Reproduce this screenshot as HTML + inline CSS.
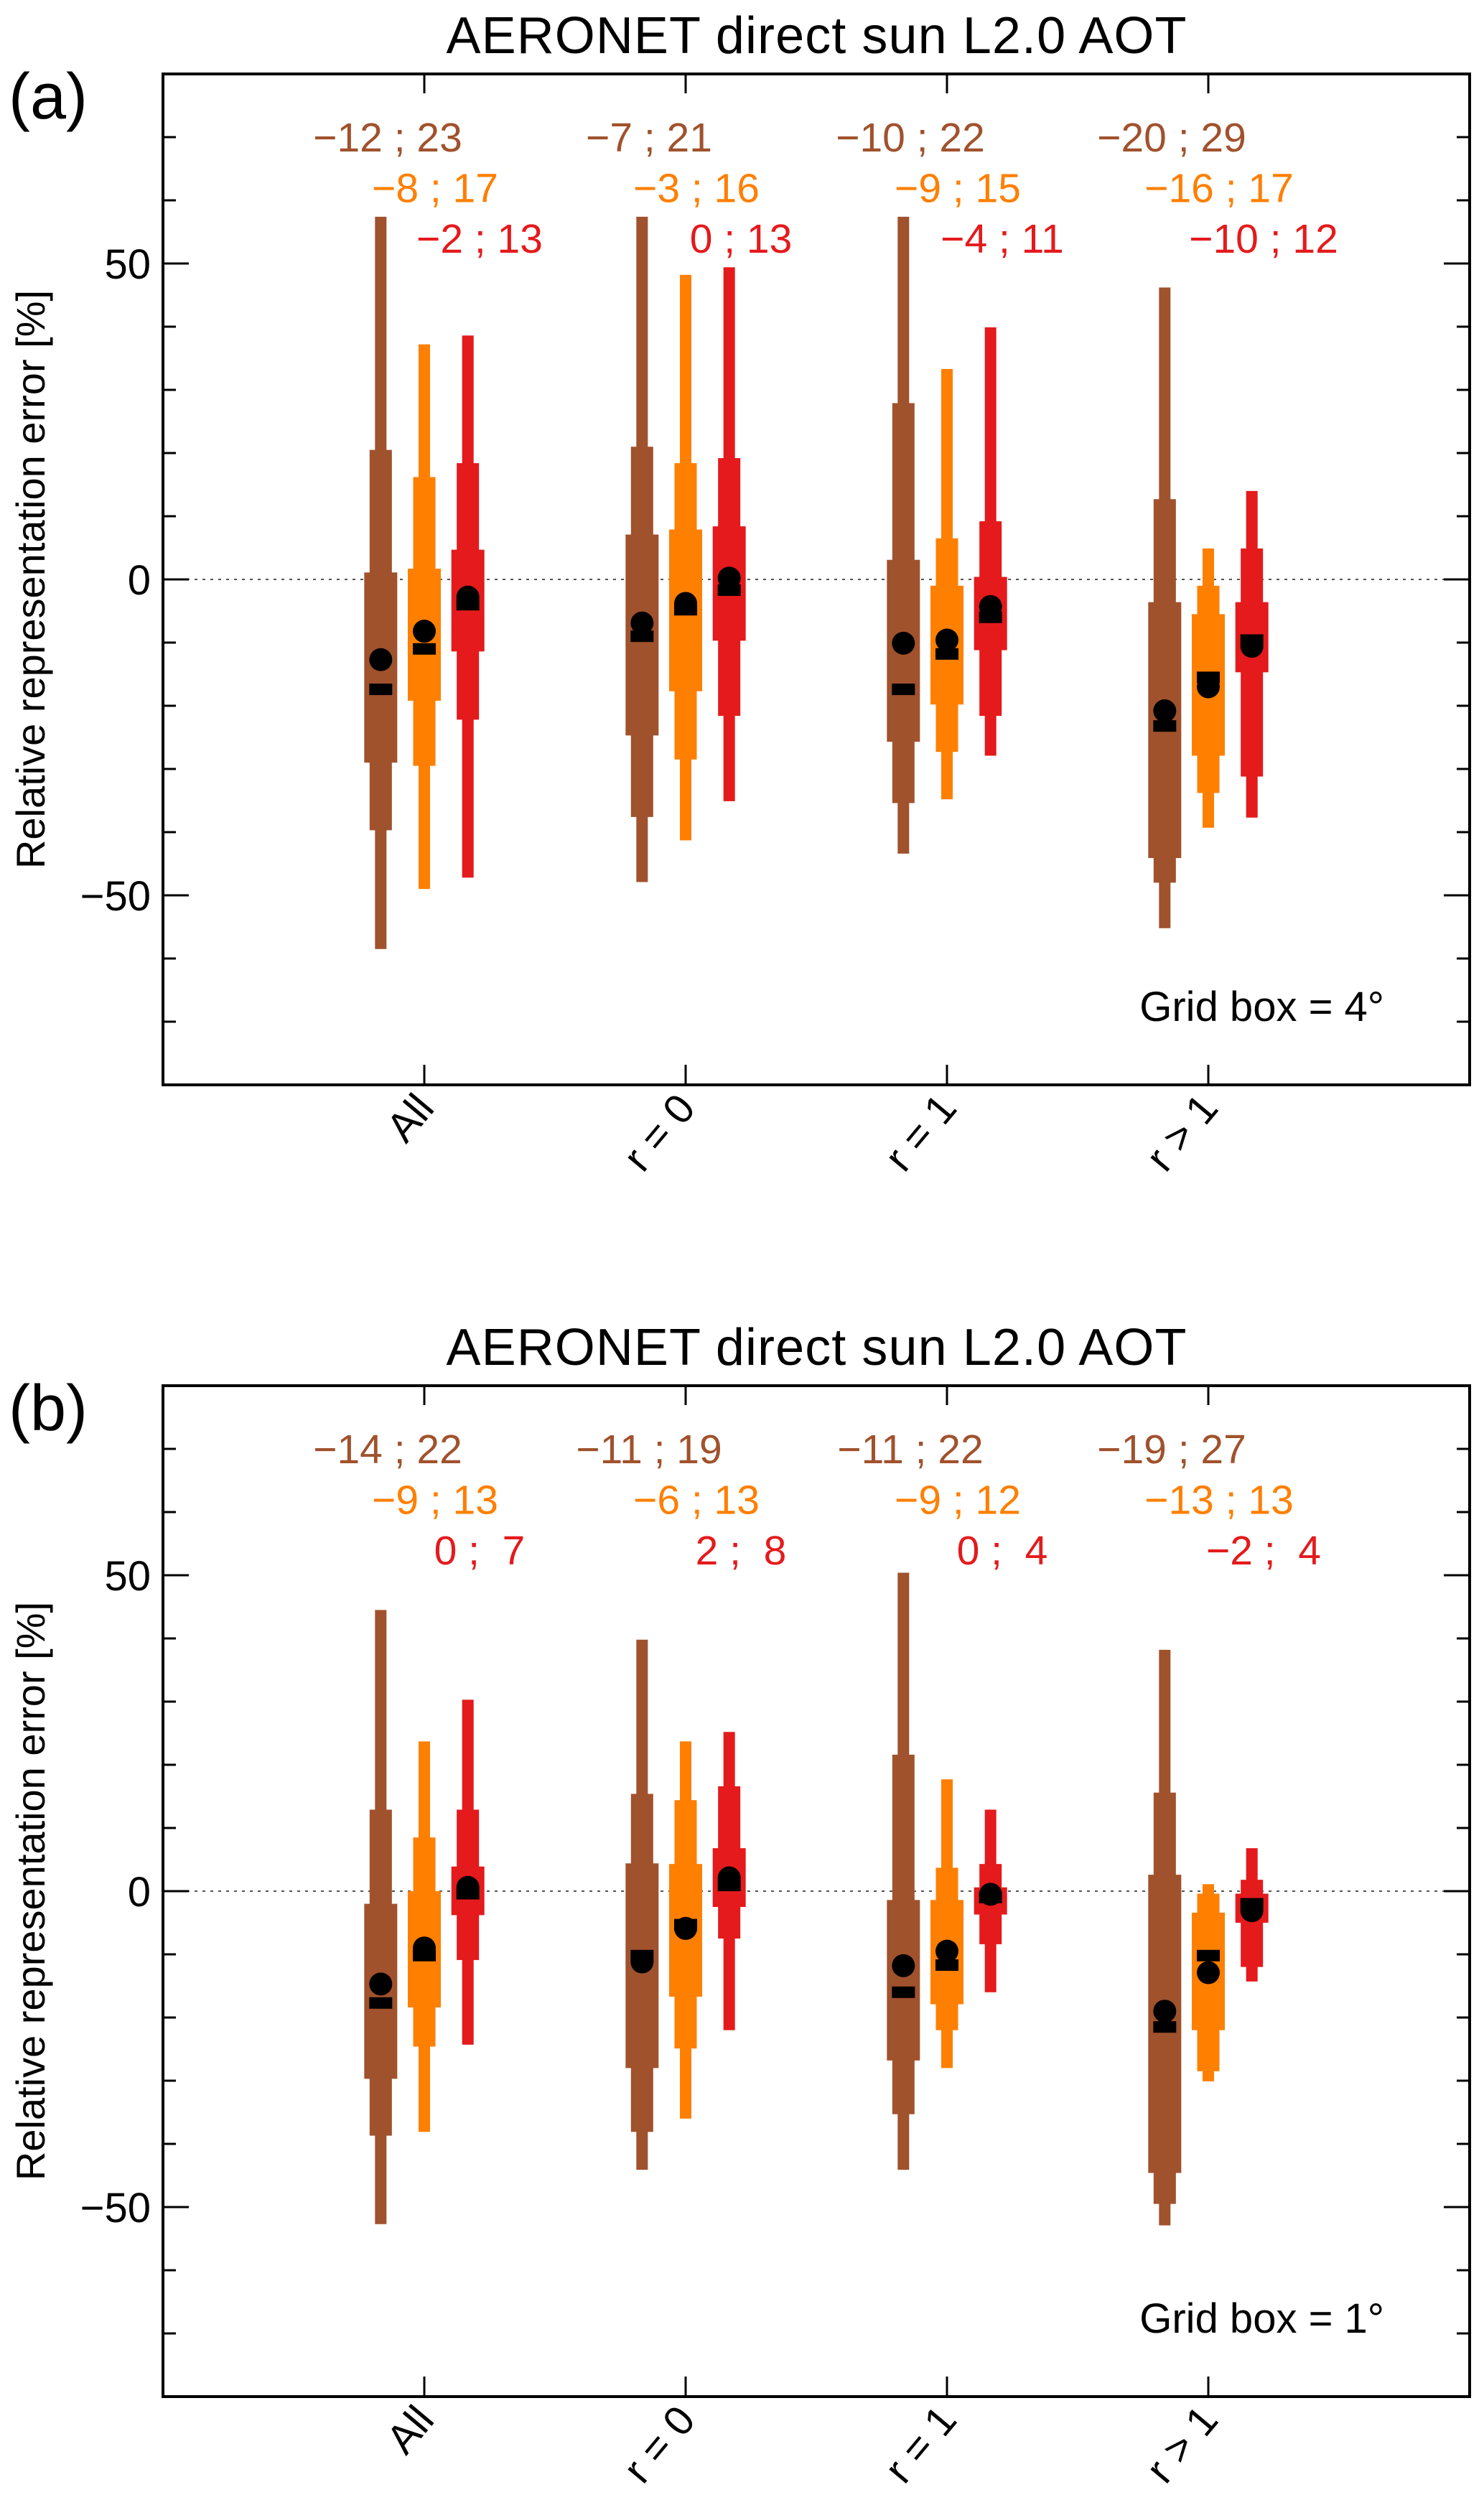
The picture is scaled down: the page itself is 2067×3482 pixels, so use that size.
<!DOCTYPE html>
<html><head><meta charset="utf-8"><style>
html,body{margin:0;padding:0;background:#fff;}
svg{display:block;font-family:"Liberation Sans",Arial,sans-serif;}
</style></head>
<body>
<svg id="chart" width="2067" height="3482" viewBox="0 0 2067 3482" xmlns="http://www.w3.org/2000/svg"></svg>
<script>
// ---- data ----
const categories = ["All", "r = 0", "r = 1", "r > 1"];
const seriesNames = ["brown", "orange", "red"];
const seriesColors = ["#a0522d", "#ff7f00", "#e41a1c"];
const yTicksMajor = [-50, 0, 50];
const yTickLabels = ["\u221250", "0", "50"];
// Panel (a) 4 deg: per series, per category: [min, p10, p25, p75, p90, max]
const aMin = [[-58.5,-47.9,-43.4,-55.2],[-49,-41.3,-34.8,-39.3],[-47.2,-35.1,-27.9,-37.7]];
const aLo  = [[-39.7,-37.6,-35.4,-48],[-29.5,-28.5,-27.3,-33.8],[-22.2,-21.6,-21.6,-31.2]];
const aQ1  = [[-29,-24.7,-25.7,-44.1],[-19.2,-17.7,-19.8,-27.9],[-11.4,-9.7,-11.2,-14.7]];
const aQ3  = [[1.1,7.1,3.1,-3.6],[1.7,7.9,-1,-5.5],[4.7,8.4,0.4,-3.6]];
const aHi  = [[20.5,21,27.9,12.7],[16.2,18.4,6.5,-1],[18.4,19.2,9.2,4.9]];
const aMax = [[57.4,57.4,57.4,46.2],[37.2,48.2,33.3,4.9],[38.6,49.4,39.9,14]];
const aMean= [[-12.7,-6.9,-10.1,-20.8],[-8.2,-3.8,-9.6,-17],[-2.8,0.2,-4.3,-10.6]];
const aMed = [[-17.4,-9,-17.4,-23.2],[-11,-4.8,-11.8,-15.5],[-4,-1.7,-6,-9.6]];
const aLabels = [["\u221212 ; 23","\u22127 ; 21","\u221210 ; 22","\u221220 ; 29"],
                 ["\u22128 ; 17","\u22123 ; 16","\u22129 ; 15","\u221216 ; 17"],
                 ["\u22122 ; 13","0 ; 13","\u22124 ; 11","\u221210 ; 12"]];
// Panel (b) 1 deg
const bMin = [[-52.7,-44.1,-44.1,-52.9],[-38.1,-36,-28,-30.1],[-24.3,-22,-16,-14.3]];
const bLo  = [[-38.7,-38.1,-35.3,-49.5],[-24.6,-24.9,-22,-28.5],[-10.9,-7.5,-8.4,-12]];
const bQ1  = [[-29.7,-28,-26.8,-44.6],[-18.4,-16.7,-17.9,-22],[-3.8,-2.5,-3.7,-5]];
const bQ3  = [[-2,4.4,-1.4,2.6],[0,4.3,-1.4,-3.4],[3.9,6.8,0.6,-0.4]];
const bHi  = [[12.9,15.4,21.6,15.6],[8.5,14.4,3.7,-0.4],[12.9,16.6,4.3,1.8]];
const bMax = [[44.5,39.8,50.4,38.2],[23.7,23.7,17.7,1.1],[30.3,25.2,12.9,6.8]];
const bMean= [[-14.7,-11.2,-11.8,-19],[-9,-5.9,-9.5,-12.9],[0.6,2.1,-0.5,-3.1]];
const bMed = [[-17.7,-10.2,-16,-21.5],[-10.2,-5.3,-11.7,-10.2],[-0.4,0.9,-1,-2]];
const bLabels = [["\u221214 ; 22","\u221211 ; 19","\u221211 ; 22","\u221219 ; 27"],
                 ["\u22129 ; 13","\u22126 ; 13","\u22129 ; 12","\u221213 ; 13"],
                 ["0 ;  7","2 ;  8","0 ;  4","\u22122 ;  4"]];

const NS = "http://www.w3.org/2000/svg";
const svg = document.getElementById("chart");
function mk(tag, attrs, parent) {
  const e = document.createElementNS(NS, tag);
  for (const k in attrs) e.setAttribute(k, attrs[k]);
  (parent || svg).appendChild(e);
  return e;
}

function drawPanel(p) {
  const L = 227, R = 2047, T = p.top, B = p.top + 1408;
  const yMin = -80, yMax = 80, xMin = 0, xMax = 5;
  const X = v => L + (v - xMin) / (xMax - xMin) * (R - L);
  const Y = v => B - (v - yMin) / (yMax - yMin) * (B - T);
  const g = mk("g", {});
  
  

  const title = mk("text", {x: (L + R) / 2, y: T - 29, "font-size": 72, "text-anchor": "middle", textLength: 1031, fill: "#000"}, g);
  title.textContent = "AERONET direct sun L2.0 AOT";
  
  

  const tag = mk("text", {x: 12, y: T + 62, "font-size": 90, fill: "#000"}, g);
  tag.textContent = p.tag;
  
  

  // zero line
  const zl = mk("line", {x1: L, x2: R, y1: Y(0), y2: Y(0), stroke: "#555", "stroke-width": 2, "stroke-dasharray": "4 7"}, g);
  
  

  // y ticks
  for (let v = -70; v <= 70; v += 10) {
    const len = (v % 50 === 0) ? 36 : 18;
    const t1 = mk("line", {x1: L, x2: L + len, y1: Y(v), y2: Y(v), stroke: "#000", "stroke-width": 3}, g);
    
    
    const t2 = mk("line", {x1: R, x2: R - len, y1: Y(v), y2: Y(v), stroke: "#000", "stroke-width": 3}, g);
    
    
  }
  yTicksMajor.forEach((v, i) => {
    const tl = mk("text", {x: 210, y: Y(v) + 21, "font-size": 58, "text-anchor": "end", fill: "#000"}, g);
    tl.textContent = yTickLabels[i];
    
    
  });
  const yl = mk("text", {x: 0, y: 0, "font-size": 56, "text-anchor": "middle", fill: "#000", transform: `translate(62 ${Y(0)}) rotate(-90)`}, g);
  yl.textContent = "Relative representation error [%]";
  
  

  // categories
  categories.forEach((c, i) => {
    const cx = X(i + 1);
    const tt = mk("line", {x1: cx, x2: cx, y1: T, y2: T + 27, stroke: "#000", "stroke-width": 3}, g);
    
    
    const tb = mk("line", {x1: cx, x2: cx, y1: B, y2: B - 28, stroke: "#000", "stroke-width": 3}, g);
    
    
    const xl = mk("text", {x: 0, y: 0, "font-size": 58, "text-anchor": "end", fill: "#000", transform: `translate(${cx + 16} ${B + 34}) rotate(-50)`}, g);
    xl.textContent = c;
    
    
  });

  const offsets = [-0.1667, 0, 0.1667];
  const labelOff = [-51, 15, 77];
  const labelRows = [70, 62, 54];
  seriesNames.forEach((s, si) => {
    const col = seriesColors[si];
    categories.forEach((c, ci) => {
      const cx = X(ci + 1 + offsets[si]);
      const bg = mk("g", {}, g);
      
      
      const w1 = mk("rect", {x: cx - 8, width: 16, y: Y(p.max[si][ci]), height: Y(p.min[si][ci]) - Y(p.max[si][ci]), fill: col}, bg);
      
      
      const w2 = mk("rect", {x: cx - 15.5, width: 31, y: Y(p.hi[si][ci]), height: Y(p.lo[si][ci]) - Y(p.hi[si][ci]), fill: col}, bg);
      
      
      const w3 = mk("rect", {x: cx - 23, width: 46, y: Y(p.q3[si][ci]), height: Y(p.q1[si][ci]) - Y(p.q3[si][ci]), fill: col}, bg);
      
      
      const md = mk("rect", {x: cx - 16, width: 32, y: Y(p.med[si][ci]) - 8, height: 16, fill: "#000"}, bg);
      
      
      const mn = mk("circle", {cx: cx, cy: Y(p.mean[si][ci]), r: 16, fill: "#000"}, bg);
      
      
      const lt = mk("text", {x: X(ci + 1) + labelOff[si], y: Y(labelRows[si]) + 20, "font-size": 57, "text-anchor": "middle", fill: col, "xml:space": "preserve", style: "white-space:pre"}, g);
      lt.textContent = p.labels[si][ci];
      
      
    });
  });

  const gb = mk("text", {x: 1928, y: T + 1319, "font-size": 58, "text-anchor": "end", fill: "#000"}, g);
  gb.textContent = p.grid;
  
  

  const fr = mk("rect", {x: L, y: T, width: R - L, height: B - T, fill: "none", stroke: "#000", "stroke-width": 4}, g);
  
  
}

drawPanel({name: "panel-a", tag: "(a)", top: 103, grid: "Grid box = 4\u00b0",
  min: aMin, lo: aLo, q1: aQ1, q3: aQ3, hi: aHi, max: aMax, mean: aMean, med: aMed, labels: aLabels});
drawPanel({name: "panel-b", tag: "(b)", top: 1930, grid: "Grid box = 1\u00b0",
  min: bMin, lo: bLo, q1: bQ1, q3: bQ3, hi: bHi, max: bMax, mean: bMean, med: bMed, labels: bLabels});
</script>
</body></html>
